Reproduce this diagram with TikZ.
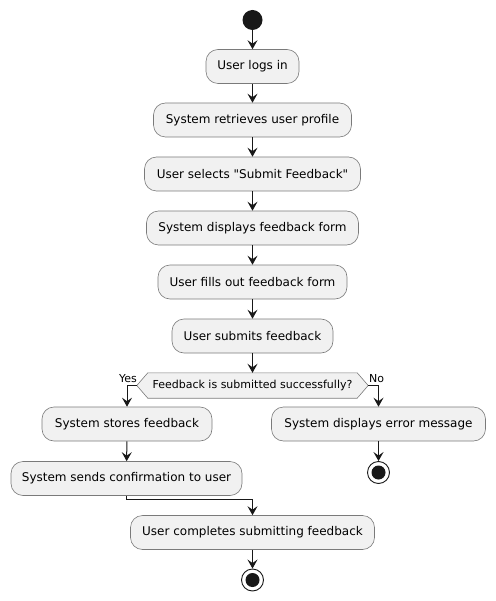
\documentclass[tikz,border=0pt]{standalone}
\usepackage{fontspec}
\setmainfont{DejaVu Sans}[Ligatures=TeXOff]
\usetikzlibrary{arrows.meta,backgrounds}
\definecolor{actfill}{HTML}{F1F1F1}
\definecolor{actline}{HTML}{181818}
\definecolor{actborder}{HTML}{7A7A7A}
\tikzset{
  act/.style={draw=actborder, line width=0.6pt, fill=actfill, rounded corners=12pt,
    minimum height=34pt, inner sep=0pt, font=\fontsize{12pt}{14pt}\selectfont, text=black},
  flow/.style={draw=actline, line width=1pt, -{Stealth[length=9pt,width=10pt,inset=3.5pt]}},
  startdot/.style={circle, fill=actline, minimum size=20pt, inner sep=0pt},
  enddot/.style={circle, draw=actline, line width=0.9pt, fill=white, minimum size=22pt, inner sep=0pt,
    path picture={\fill[actline] (path picture bounding box.center) circle (7pt);}},
  lbl/.style={font=\fontsize{11pt}{13pt}\selectfont, inner sep=0pt, text=black}
}
\begin{document}
\begin{tikzpicture}[x=1pt,y=-1pt]
\useasboundingbox (0,0) rectangle (495,601);
\node[startdot] (start) at (252.5,20) {};
\node[act, minimum width=93pt] (login) at (252.5,66.5) {User logs in};
\node[act, minimum width=198pt] (retr) at (252.5,120) {System retrieves user profile};
\node[act, minimum width=216pt] (sel) at (252.5,174) {User selects "Submit Feedback"};
\node[act, minimum width=212pt] (disp) at (252.5,228) {System displays feedback form};
\node[act, minimum width=189pt] (fill) at (252.5,282) {User fills out feedback form};
\node[act, minimum width=161pt] (subm) at (252.5,336) {User submits feedback};
\node[lbl, minimum width=231pt, minimum height=25pt] (dec) at (252.5,385.5) {Feedback is submitted successfully?};
\begin{pgfonlayer}{background}
\draw[draw=actborder, line width=0.6pt, fill=actfill]
  (dec.west) -- ([xshift=11pt]dec.north west) -- ([xshift=-11pt]dec.north east) -- (dec.east)
  -- ([xshift=-11pt]dec.south east) -- ([xshift=11pt]dec.south west) -- cycle;
\end{pgfonlayer}
\node[lbl, anchor=east] (yes) at (137,379) {Yes};
\node[lbl, anchor=west] (no) at (369,379) {No};
\node[act, minimum width=170pt] (store) at (127,424) {System stores feedback};
\node[act, minimum width=214pt] (err) at (378.5,424) {System displays error message};
\node[enddot] (errend) at (378.5,472.5) {};
\node[act, minimum width=231pt] (send) at (126.5,478.5) {System sends confirmation to user};
\node[act, minimum width=244pt] (done) at (252.5,532.5) {User completes submitting feedback};
\node[enddot] (fin) at (252.5,580) {};

\draw[flow] (start) -- (login);
\draw[flow] (login) -- (retr);
\draw[flow] (retr) -- (sel);
\draw[flow] (sel) -- (disp);
\draw[flow] (disp) -- (fill);
\draw[flow] (fill) -- (subm);
\draw[flow] (subm) -- (dec.north);
\draw[flow] (dec.west) -| (store.north);
\draw[flow] (dec.east) -| (err.north);
\draw[flow] (store) -- (send);
\draw[flow] (err) -- (errend);
\draw[flow] (send.south) -- ++(0,4) -| (done.north);
\draw[flow] (done) -- (fin);
\end{tikzpicture}
\end{document}
